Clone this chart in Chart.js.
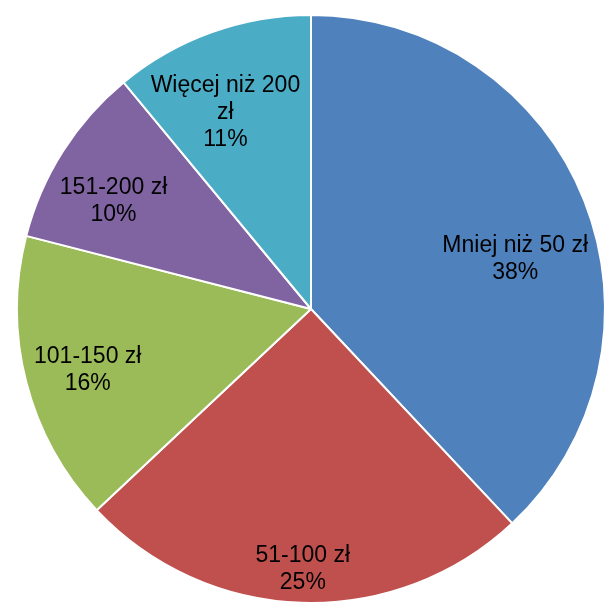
<!DOCTYPE html>
<html>
<head>
<meta charset="utf-8">
<script src="https://cdn.jsdelivr.net/npm/chart.js@4"></script>
<style>
  html, body { margin: 0; padding: 0; background: #fff; overflow: hidden; }
  #wrap { position: absolute; left: 0; top: 0; width: 622px; height: 618px; }
</style>
</head>
<body>
<div id="wrap"><canvas id="pie"></canvas></div>
<script>
const kategorie = [['Mniej niż 50 zł'], ['51-100 zł'], ['101-150 zł'], ['151-200 zł'], ['Więcej niż 200', 'zł']];
const procenty = [38, 25, 16, 10, 11];
const kolory = ['#4f81bd', '#c0504d', '#9bbb59', '#8064a2', '#4bacc6'];

// położenie etykiet: ułamek promienia i przesunięcie kąta (stopnie)
const etykietyR = [0.715, 0.885, 0.787, 0.765, 0.73];
const etykietyKat = [7.9, 0, -0.8, -3.8, -3.7];

const etykietyPlugin = {
    id: 'etykiety',
    afterDatasetsDraw(chart) {
        const ctx = chart.ctx;
        const meta = chart.getDatasetMeta(0);
        ctx.save();
        ctx.fillStyle = '#000';
        ctx.font = '23px "Liberation Sans", Arial, sans-serif';
        ctx.textAlign = 'center';
        ctx.textBaseline = 'middle';
        meta.data.forEach((arc, i) => {
            const p = arc.getProps(['x', 'y', 'startAngle', 'endAngle', 'outerRadius'], true);
            const kat = (p.startAngle + p.endAngle) / 2 + etykietyKat[i] * Math.PI / 180;
            const r = p.outerRadius * etykietyR[i];
            const cx = p.x + Math.cos(kat) * r;
            const cy = p.y + Math.sin(kat) * r;
            const linie = kategorie[i].concat([procenty[i] + '%']);
            const lh = 27;
            const y0 = cy - (linie.length - 1) * lh / 2;
            linie.forEach((t, j) => ctx.fillText(t, cx, y0 + j * lh));
        });
        ctx.restore();
    }
};

new Chart(document.getElementById('pie'), {
    type: 'pie',
    data: {
        labels: kategorie.map(k => k.join(' ')),
        datasets: [{
            data: procenty,
            backgroundColor: kolory,
            borderColor: '#ffffff',
            borderWidth: 2
        }]
    },
    options: {
        responsive: true,
        maintainAspectRatio: false,
        animation: false,
        layout: { padding: 14 },
        plugins: {
            legend: { display: false },
            tooltip: { enabled: false }
        }
    },
    plugins: [etykietyPlugin]
});
</script>
</body>
</html>
